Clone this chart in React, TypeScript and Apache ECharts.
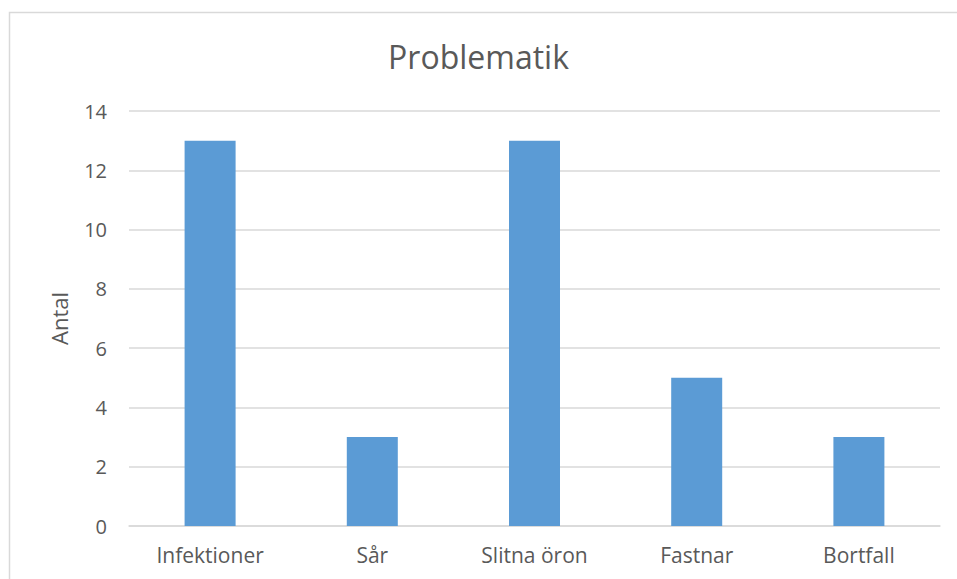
import React, { useEffect, useRef } from "react";
import * as echarts from "echarts";

const categories = ["Infektioner", "Sår", "Slitna öron", "Fastnar", "Bortfall"];
const values = [13, 3, 13, 5, 3];
const titleText = "Problematik";
const yAxisName = "Antal";

export default function App() {
  const ref = useRef<HTMLDivElement>(null);
  useEffect(() => {
    if (!ref.current) return;
    const chart = echarts.init(ref.current, undefined, { renderer: "svg" });
    const font = "Open Sans, Noto Sans, sans-serif";
    chart.setOption({
      animation: false,
      backgroundColor: "#ffffff",
      graphic: [
        {
          type: "rect",
          shape: { x: 9.5, y: 12.5, width: 1200, height: 1200 },
          style: { fill: "none", stroke: "#d9d9d9", lineWidth: 1.5 },
          silent: true,
        },
      ],
      title: {
        text: titleText,
        left: "center",
        top: 35,
        textStyle: { fontFamily: font, fontSize: 32, fontWeight: "normal", color: "#595959" },
      },
      grid: { left: 129, right: 17, top: 111, bottom: 53 },
      xAxis: {
        type: "category",
        data: categories,
        axisLine: { show: true, lineStyle: { color: "#d9d9d9", width: 1.5 } },
        axisTick: { show: false },
        axisLabel: { color: "#595959", fontFamily: font, fontSize: 21, margin: 18 },
      },
      yAxis: {
        type: "value",
        min: 0,
        max: 14,
        interval: 2,
        name: yAxisName,
        nameLocation: "middle",
        nameGap: 59,
        nameRotate: 90,
        nameTextStyle: { color: "#595959", fontFamily: font, fontSize: 22 },
        axisLine: { show: false },
        axisTick: { show: false },
        splitLine: { lineStyle: { color: "#d9d9d9", width: 1.5 } },
        axisLabel: { color: "#595959", fontFamily: font, fontSize: 20, margin: 22 },
      },
      series: [
        {
          type: "bar",
          data: values,
          barWidth: 51,
          itemStyle: { color: "#5b9bd5" },
        },
      ],
    });
    return () => chart.dispose();
  }, []);
  return <div ref={ref} style={{ position: "fixed", left: 0, top: 0, width: 957, height: 579 }} />;
}
